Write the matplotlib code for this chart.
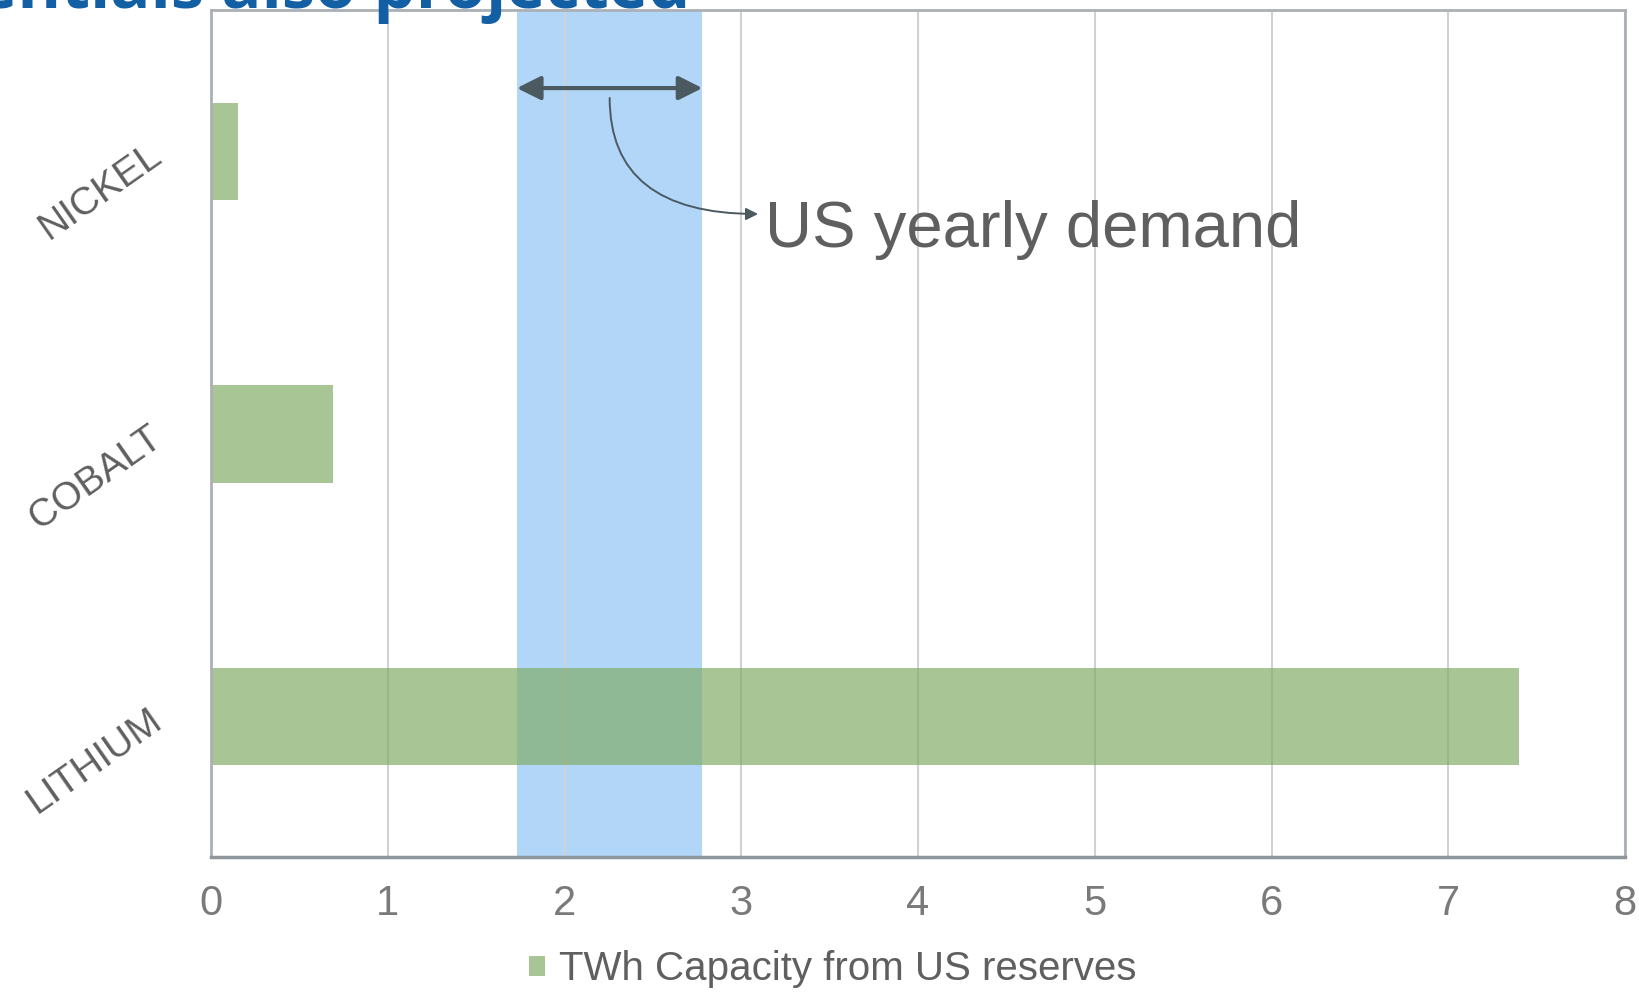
import matplotlib
matplotlib.use("Agg")
import matplotlib.pyplot as plt
import numpy as np

# Materials, bottom to top, and the TWh of battery capacity each US reserve supports
materials = ["LITHIUM", "COBALT", "NICKEL"]
capacity_twh = [7.40, 0.69, 0.15]
legend_label = "TWh Capacity from US reserves"

# Range of yearly US demand (TWh)
demand_low = 1.73
demand_high = 2.78
demand_label = "US yearly demand"

x_ticks = [0, 1, 2, 3, 4, 5, 6, 7, 8]

# bar colour is see-through so the demand band tints it where they cross
GREEN = (127 / 255, 170 / 255, 101 / 255)
GREEN_ALPHA = 0.68
BLUE = "#b2d6f8"
GRAY_TEXT = "#5f5f5f"
ARROW = "#4b5a60"

plt.rcParams["font.family"] = ["Liberation Sans", "DejaVu Sans"]

fig = plt.figure(figsize=(16.4, 9.93), dpi=100)
ax = fig.add_axes([0.1287, 0.1365, 0.8622, 0.853])

ypos = np.arange(len(materials))
ax.axvspan(demand_low, demand_high, color=BLUE, lw=0, zorder=0.2)
ax.barh(ypos, capacity_twh, height=0.345, color=GREEN, alpha=GREEN_ALPHA,
        zorder=2, label=legend_label)

ax.set_xlim(x_ticks[0], x_ticks[-1])
ax.set_ylim(-0.5, len(materials) - 0.5)
ax.set_xticks(x_ticks)
ax.set_xticklabels([str(t) for t in x_ticks], fontsize=30, color="#7a7a7a")
ax.set_yticks(ypos)
ax.set_yticklabels(materials, fontsize=28, color=GRAY_TEXT, rotation=35,
                   rotation_mode="anchor", ha="right", va="center")
ax.tick_params(axis="x", length=0, pad=19)
ax.tick_params(axis="y", length=0, pad=38)

ax.set_axisbelow(True)
ax.grid(axis="x", color="#cfd1d3", lw=1.5)
for side in ["top", "right", "left"]:
    ax.spines[side].set_color("#aab0b6")
    ax.spines[side].set_linewidth(2)
ax.spines["bottom"].set_color("#8e959b")
ax.spines["bottom"].set_linewidth(2.5)

# double-headed arrow spanning the demand range
y_arrow = 2.225
ax.annotate("", xy=(demand_low, y_arrow), xytext=(demand_high, y_arrow),
            arrowprops=dict(arrowstyle="<|-|>", color=ARROW, lw=3,
                            mutation_scale=36, shrinkA=0, shrinkB=0),
            zorder=5)

# curved pointer to the label
mid = (demand_low + demand_high) / 2
ax.annotate("", xy=(3.095, 1.779), xytext=(mid, 2.19),
            arrowprops=dict(arrowstyle="-|>", color=ARROW, lw=1.4,
                            mutation_scale=18, shrinkA=0, shrinkB=0,
                            connectionstyle="angle3,angleA=90,angleB=0"),
            zorder=5)
ax.text(3.134, 1.662, demand_label, fontsize=47, color=GRAY_TEXT,
        ha="left", va="baseline", zorder=6)

leg = fig.legend(loc="center", bbox_to_anchor=(0.508, 0.024), frameon=False,
                 fontsize=29, handlelength=0.4, handleheight=0.4,
                 handletextpad=0.35, labelcolor=GRAY_TEXT)

# heading, mostly cut off by the top edge
fig.text(690 / 1640, 1 - 8 / 993, "Potentials also projected", fontsize=48,
         fontweight="bold", color="#135fa3", ha="right", va="baseline",
         family=["Open Sans", "DejaVu Sans"])

fig.savefig("out.png", dpi=100)
